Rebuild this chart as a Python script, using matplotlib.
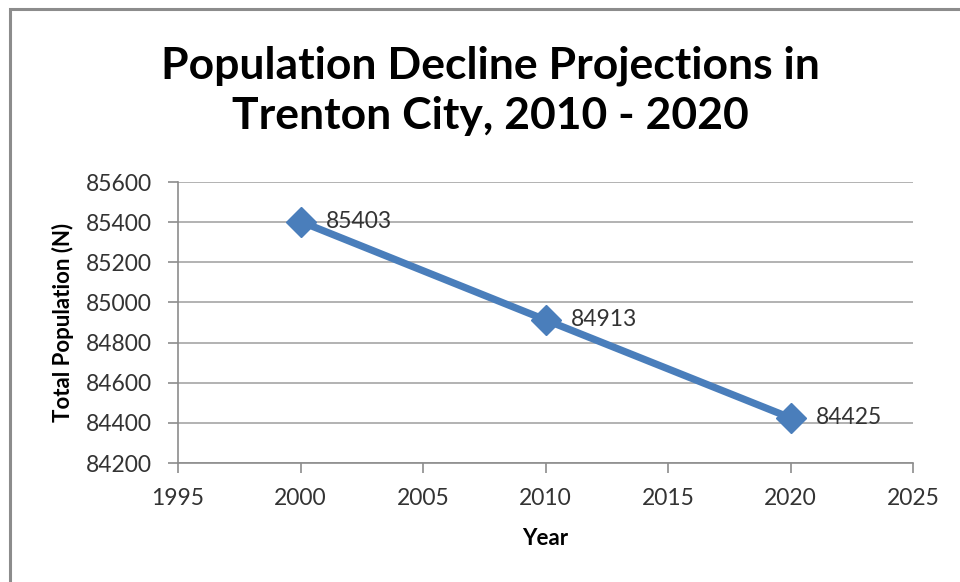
import matplotlib
matplotlib.use("Agg")
import matplotlib.pyplot as plt
from matplotlib.patches import Rectangle

years = [2000, 2010, 2020]
population = [85403, 84913, 84425]
x_ticks = [1995, 2000, 2005, 2010, 2015, 2020, 2025]
y_ticks = [84200, 84400, 84600, 84800, 85000, 85200, 85400, 85600]

plt.rcParams['font.family'] = ['Lato', 'DejaVu Sans']

fig = plt.figure(figsize=(9.6, 5.82), dpi=100)

# chart frame (cropped, only left and top edges visible)
fig.patches.append(Rectangle((10 / 960, -0.05), 2.0, 1.05 - 9 / 582, transform=fig.transFigure,
                             fill=False, edgecolor='#8c8c8c', linewidth=2.2))

ax = fig.add_axes([178 / 960, 1 - 463 / 582, (913 - 178) / 960, (463 - 182) / 582])

ax.plot(years, population, color='#4A7EBB', linewidth=5.2, marker='D',
        markersize=15, markerfacecolor='#4A7EBB', markeredgecolor='#4A7EBB', zorder=3)

for x, y in zip(years, population):
    ax.annotate(str(y), (x, y), xytext=(18, 0), textcoords='offset points',
                ha='left', va='center', fontsize=16.5, color='#333333')

ax.set_xlim(1995, 2025)
ax.set_ylim(84200, 85600)
ax.set_xticks(x_ticks)
ax.set_yticks(y_ticks)
ax.tick_params(axis='both', labelsize=16.5, labelcolor='#333333', color='#8c8c8c',
               length=7, width=1.2)
ax.tick_params(axis='y', pad=12)
ax.tick_params(axis='x', pad=11)
ax.grid(axis='y', color='#a6a6a6', linewidth=1.2)
ax.set_axisbelow(True)
for side in ['top', 'right']:
    ax.spines[side].set_visible(False)
for side in ['left', 'bottom']:
    ax.spines[side].set_color('#8c8c8c')
    ax.spines[side].set_linewidth(1.2)

ax.set_xlabel("Year", fontsize=16, fontweight='bold', labelpad=14)
ax.set_ylabel("Total Population (N)", fontsize=16, fontweight='bold', labelpad=8)

fig.text(490 / 960, 1 - 91 / 582, "Population Decline Projections in\nTrenton City, 2010 - 2020",
         ha='center', va='center', fontsize=32, fontweight='bold', linespacing=1.3)

fig.savefig("out.png", dpi=100)
